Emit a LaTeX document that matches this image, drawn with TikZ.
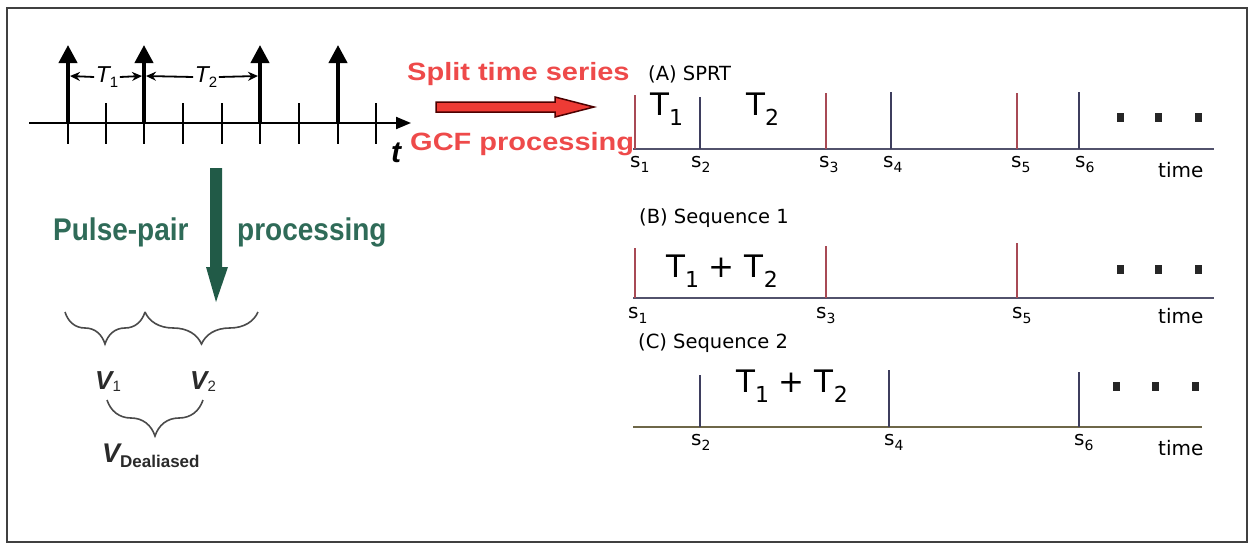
\documentclass[tikz,border=0pt]{standalone}
\usepackage{graphicx}
\usepackage{fontspec}
\setmainfont{Liberation Sans}
\newfontfamily\dejavu{DejaVu Sans}
\usetikzlibrary{arrows.meta,decorations.pathreplacing}
\definecolor{redtxt}{HTML}{EE4A4A}
\definecolor{redarrow}{HTML}{EE3B35}
\definecolor{greentxt}{HTML}{2F6B58}
\definecolor{greenarrow}{HTML}{215A47}
\definecolor{redline}{HTML}{A84A55}
\definecolor{blueline}{HTML}{3E3E5E}
\definecolor{axisA}{HTML}{52526C}
\definecolor{axisC}{HTML}{6E6748}
\definecolor{ink}{HTML}{2A2A2A}
\newcommand{\slab}[1]{s\raisebox{-5pt}{\fontsize{14}{14}\selectfont #1}}
\newcommand{\bigT}[1]{T\raisebox{-10pt}{\fontsize{22}{22}\selectfont #1}}
\newcommand{\widered}[1]{\scalebox{1.16}[1]{#1}}
\newcommand{\tallgreen}[1]{\scalebox{1}[1.12]{#1}}
\tikzset{
  pulse/.style={line width=4pt,-{Triangle[width=18pt,length=18pt]}},
  tick/.style={line width=2pt},
  dimarrow/.style={line width=1.8pt,-{Stealth[width=9pt,length=10pt]}},
  lbl/.style={inner sep=0pt,anchor=base west},
  redlbl/.style={lbl,text=redtxt,font=\bfseries\fontsize{25}{25}\selectfont},
  greenlbl/.style={lbl,text=greentxt,font=\bfseries\fontsize{28}{28}\selectfont},
  seqlbl/.style={lbl,font=\dejavu\fontsize{19.5}{19.5}\selectfont},
  tlbl/.style={lbl,font=\dejavu\fontsize{31}{31}\selectfont},
  slbl/.style={lbl,font=\dejavu\fontsize{20}{20}\selectfont},
  timelbl/.style={lbl,font=\dejavu\fontsize{20}{20}\selectfont},
  vlbl/.style={lbl,text=ink,font=\bfseries\itshape\fontsize{26}{26}\selectfont},
  bracestyle/.style={draw=ink!85,line width=1.6pt,decorate,decoration={brace,mirror}},
  redmark/.style={draw=redline,line width=1.3pt},
  bluemark/.style={draw=blueline,line width=1.3pt},
  dotsq/.style={fill=black!85},
}
\begin{document}
\begin{tikzpicture}[x=1pt,y=-1pt]
\useasboundingbox (0,0) rectangle (1251,544);
\draw[line width=2pt,draw=black!75] (7,8) rectangle (1247,542);

% ---------- left: pulse train ----------
\coordinate (ax0) at (29,123);
\coordinate (ax1) at (411,123);
\draw[line width=2pt,-{Triangle[width=12pt,length=15pt]}] (ax0) -- (ax1);
\foreach \x in {68,106,144,183,222,260,299,338,376}{
  \draw[tick] (\x,103) -- (\x,144);
}
\foreach \x/\n in {68/1,144/2,260/3,338/4}{
  \coordinate (pb\n) at (\x,123);
  \coordinate (pt\n) at (\x,45);
  \draw[pulse] (pb\n) -- (pt\n);
}
\node[inner sep=1.5pt,font=\itshape\fontsize{23}{23}\selectfont] (T1) at (107,77) {T\raisebox{-5pt}{\upshape\fontsize{15}{15}\selectfont 1}};
\node[inner sep=1.5pt,font=\itshape\fontsize{23}{23}\selectfont] (T2) at (206,77) {T\raisebox{-5pt}{\upshape\fontsize{15}{15}\selectfont 2}};
\coordinate (d1) at (70,76);
\coordinate (d2l) at (142,76);
\coordinate (d2r) at (146,76);
\coordinate (d3) at (258,76);
\draw[dimarrow] (T1.west) -- (d1);
\draw[dimarrow] (T1.east) -- (d2l);
\draw[dimarrow] (T2.west) -- (d2r);
\draw[dimarrow] (T2.east) -- (d3);
\node[inner sep=0pt,font=\bfseries\itshape\fontsize{30}{30}\selectfont] (tlab) at (396,153) {t};

% ---------- red arrow ----------
\coordinate (ra0) at (436,107);
\coordinate (ra1) at (594,107);
\filldraw[fill=redarrow,draw=black!70!red,line width=1.5pt]
  (436,102) -- (555,102) -- (555,97) -- (ra1) -- (555,117) -- (555,112) -- (436,112) -- cycle;
\node[redlbl] (split) at (407,80) {\widered{Split time series}};
\node[redlbl] (gcf) at (410,150) {\widered{GCF processing}};

% ---------- green arrow ----------
\coordinate (ga0) at (216,168);
\coordinate (ga1) at (216,302);
\fill[greenarrow] (210,168) -- (222,168) -- (222,267) -- (228,267) -- (ga1) -- (206,267) -- (210,267) -- cycle;
\node[greenlbl] (pp) at (53,240) {\tallgreen{Pulse-pair}};
\node[greenlbl] (proc) at (237,240) {\tallgreen{processing}};

% ---------- braces ----------
\coordinate (b1a) at (65,312);
\coordinate (b1b) at (145,312);
\coordinate (b2b) at (258,312);
\draw[bracestyle,decoration={amplitude=32pt}] (b1a) -- (b1b);
\draw[bracestyle,decoration={amplitude=32pt}] (b1b) -- (b2b);
\node[vlbl] (V1) at (95,389) {V\raisebox{-2pt}{\upshape\mdseries\fontsize{15}{15}\selectfont 1}};
\node[vlbl] (V2) at (190,389) {V\raisebox{-2pt}{\upshape\mdseries\fontsize{15}{15}\selectfont 2}};
\coordinate (b3a) at (107,400);
\coordinate (b3b) at (203,400);
\draw[bracestyle,decoration={amplitude=36pt}] (b3a) -- (b3b);
\node[vlbl,font=\bfseries\itshape\fontsize{27}{27}\selectfont] (VD) at (102,462) {V\raisebox{-5pt}{\upshape\fontsize{17}{17}\selectfont Dealiased}};

% ---------- (A) SPRT ----------
\node[seqlbl] (labA) at (648,80) {(A) SPRT};
\coordinate (aA0) at (633,149);
\coordinate (aA1) at (1214,149);
\draw[draw=axisA,line width=2pt] (aA0) -- (aA1);
\foreach \x/\t/\s in {635/95/redmark,700/97/bluemark,826/93/redmark,891/92/bluemark,1017/93/redmark,1079/92/bluemark}{
  \draw[\s] (\x,149) -- (\x,\t);
}
\node[tlbl] (AT1) at (650,115) {\bigT{1}};
\node[tlbl] (AT2) at (746,115) {\bigT{2}};
\foreach \x/\n in {630/1,691/2,819/3,883/4,1011/5,1075/6}{
  \node[slbl] (As\n) at (\x,167) {\slab{\n}};
}
\node[timelbl] (Atime) at (1158,177) {time};
\foreach \x in {1120,1158,1198}{ \fill[dotsq] (\x-3.5,113) rectangle (\x+3.5,122); }

% ---------- (B) Sequence 1 ----------
\node[seqlbl] (labB) at (639,223) {(B) Sequence 1};
\coordinate (aB0) at (633,298);
\coordinate (aB1) at (1214,298);
\draw[draw=axisA,line width=2pt] (aB0) -- (aB1);
\foreach \x/\t in {635/248,826/246,1017/243}{
  \draw[redmark] (\x,298) -- (\x,\t);
}
\node[tlbl] (BT) at (666,277) {\bigT{1} + \bigT{2}};
\foreach \x/\n in {628/1,816/3,1012/5}{
  \node[slbl] (Bs\n) at (\x,318) {\slab{\n}};
}
\node[timelbl] (Btime) at (1158,323) {time};
\foreach \x in {1120,1158,1198}{ \fill[dotsq] (\x-3.5,265) rectangle (\x+3.5,274); }

% ---------- (C) Sequence 2 ----------
\node[seqlbl] (labC) at (638,348) {(C) Sequence 2};
\coordinate (aC0) at (633,427);
\coordinate (aC1) at (1202,427);
\draw[draw=axisC,line width=2pt] (aC0) -- (aC1);
\foreach \x/\t in {700/375,889/370,1079/372}{
  \draw[bluemark] (\x,427) -- (\x,\t);
}
\node[tlbl] (CT) at (736,392) {\bigT{1} + \bigT{2}};
\foreach \x/\n in {691/2,884/4,1074/6}{
  \node[slbl] (Cs\n) at (\x,445) {\slab{\n}};
}
\node[timelbl] (Ctime) at (1158,455) {time};
\foreach \x in {1116,1155,1195}{ \fill[dotsq] (\x-3.5,382) rectangle (\x+3.5,391); }
\end{tikzpicture}
\end{document}
